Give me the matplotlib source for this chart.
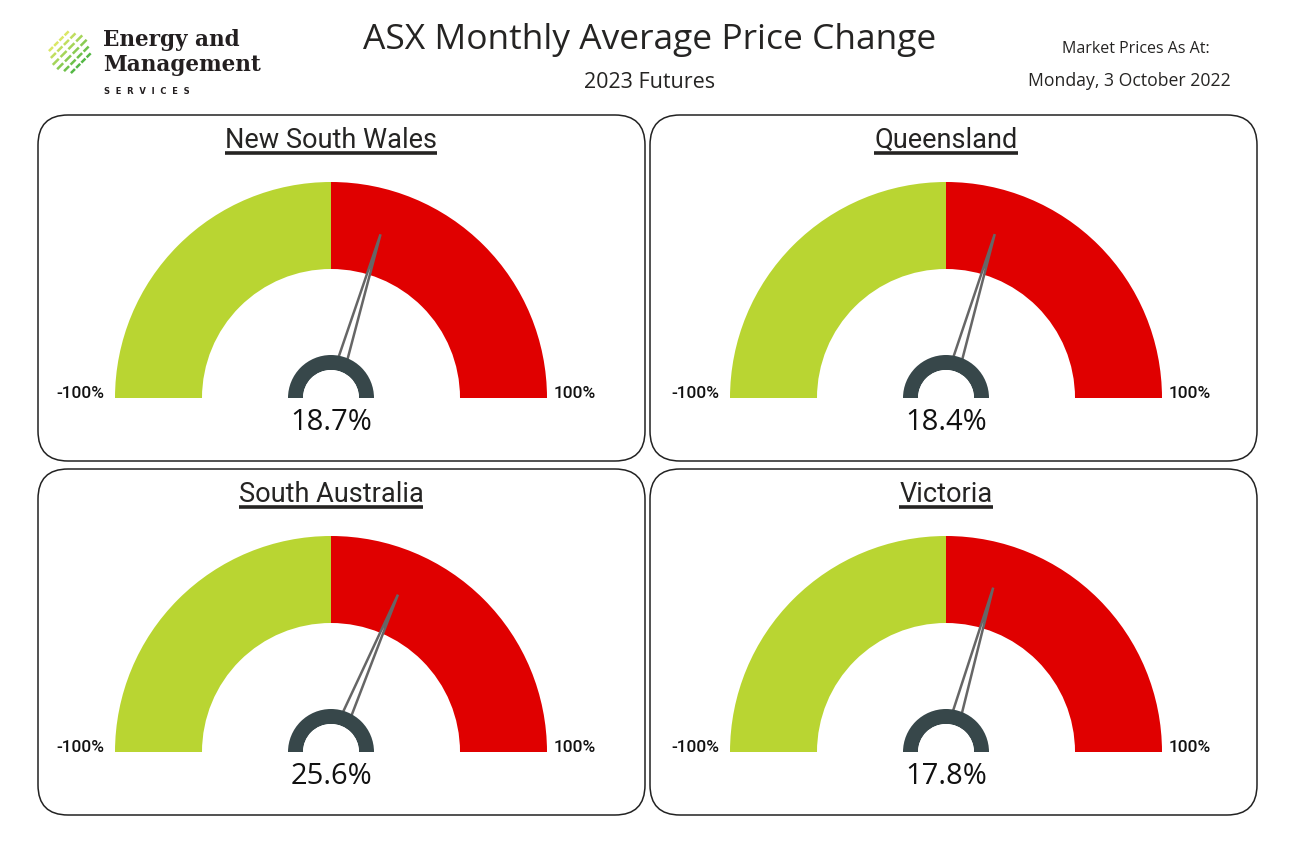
import matplotlib
matplotlib.use("Agg")
import matplotlib.pyplot as plt
from matplotlib.patches import Wedge, FancyBboxPatch, Polygon
import numpy as np

# data
regions = ["New South Wales", "Queensland", "South Australia", "Victoria"]
changes = [18.7, 18.4, 25.6, 17.8]   # percent
gauge_min, gauge_max = -100, 100

title = "ASX Monthly Average Price Change"
subtitle = "2023 Futures"
as_at_label = "Market Prices As At:"
as_at_date = "Monday, 3 October 2022"

GREEN = "#B9D532"
RED = "#E00000"
HUB = "#37474A"
NEEDLE = "#666666"
TEXT = "#252423"

W, H = 1302, 844
fig = plt.figure(figsize=(W / 100, H / 100), dpi=100)
ax = fig.add_axes([0, 0, 1, 1])
ax.set_xlim(0, W)
ax.set_ylim(0, H)
ax.set_aspect("equal")
ax.axis("off")


def Y(y):
    # pixel row (from top) to axes y
    return H - y


# header
ax.text(650, Y(40), title, ha="center", va="center", fontsize=25.5,
        family="Open Sans", color=TEXT)
ax.text(650, Y(83), subtitle, ha="center", va="center", fontsize=15.5,
        family="Open Sans", color=TEXT)
ax.text(1136, Y(49), as_at_label, ha="center", va="center", fontsize=11.5,
        family="Open Sans", color=TEXT)
ax.text(1129, Y(81), as_at_date, ha="center", va="center", fontsize=12.7,
        family="Open Sans", color=TEXT)

# logo
c_light = np.array([0.86, 0.91, 0.40])
c_dark = np.array([0.33, 0.72, 0.27])
for i in range(6):
    t = i / 5
    col = c_light * (1 - t) + c_dark * t
    L = 46 - abs(i - 2.5) * 7
    cx, cy = 70 + (i - 2.5) * 4.4, 52 + (i - 2.5) * 4.4
    for k in range(4):
        a = k * 0.26
        b = a + 0.2
        xs = cx + (np.array([a, b]) - 0.5) * L * 0.707
        ys = cy - (np.array([a, b]) - 0.5) * L * 0.707
        ax.plot(xs, [Y(v) for v in ys], color=col, lw=1.8, solid_capstyle="butt")
ax.text(103, Y(40), "Energy and", ha="left", va="center", fontsize=15.5,
        family="DejaVu Serif", weight="bold", color="#231F20")
ax.text(103, Y(65), "Management", ha="left", va="center", fontsize=15.5,
        family="DejaVu Serif", weight="bold", color="#231F20")
ax.text(104, Y(91), "S  E  R  V  I  C  E  S", ha="left", va="center", fontsize=6,
        family="DejaVu Sans", weight="bold", color="#231F20")

# panels: (left, top, gauge centre x)
panel_boxes = [(38, 115, 331), (650, 115, 946), (38, 469, 331), (650, 469, 946)]
pw, ph = 607, 346
R_OUT, R_IN = 216, 129
HUB_OUT, HUB_IN = 43, 28
NEEDLE_LEN = 171

fig.canvas.draw()
renderer = fig.canvas.get_renderer()

for name, val, (px, py, cx) in zip(regions, changes, panel_boxes):
    box = FancyBboxPatch((px, Y(py + ph)), pw, ph,
                         boxstyle="round,pad=0,rounding_size=30",
                         fc="white", ec="#222222", lw=1.1)
    ax.add_patch(box)
    cy = Y(py + 283)

    t = ax.text(cx, Y(py + 25), name, ha="center", va="center", fontsize=19.5,
                family="Roboto", color=TEXT)
    half = t.get_window_extent(renderer).width / 2
    ax.plot([cx - half, cx + half], [Y(py + 38)] * 2, color=TEXT, lw=2.6,
            solid_capstyle="butt")

    ax.add_patch(Wedge((cx, cy), R_OUT, 90, 180, width=R_OUT - R_IN, fc=GREEN, ec="none"))
    ax.add_patch(Wedge((cx, cy), R_OUT, 0, 90, width=R_OUT - R_IN, fc=RED, ec="none"))

    # needle
    ang = np.pi - (val - gauge_min) / (gauge_max - gauge_min) * np.pi
    d = np.array([np.cos(ang), np.sin(ang)])
    n = np.array([-d[1], d[0]])
    base = np.array([cx, cy]) + d * 30
    tip = np.array([cx, cy]) + d * NEEDLE_LEN
    pts = [base + n * 5, tip, base - n * 5]
    ax.add_patch(Polygon(pts, closed=True, fc="white", ec=NEEDLE, lw=1.8))

    ax.add_patch(Wedge((cx, cy), HUB_OUT, 0, 180, width=HUB_OUT - HUB_IN, fc=HUB, ec="none"))
    ax.add_patch(Wedge((cx, cy), HUB_IN, 0, 180, fc="white", ec="none"))

    ax.text(cx, Y(py + 307), f"{val:.1f}%", ha="center", va="center", fontsize=21,
            family="Open Sans", color="#111111")
    ax.text(cx - 251, Y(py + 279), f"{gauge_min}%", ha="center", va="center",
            fontsize=12.5, family="Roboto", weight="medium", color="#111111")
    ax.text(cx + 244, Y(py + 279), f"{gauge_max}%", ha="center", va="center",
            fontsize=12.5, family="Roboto", weight="medium", color="#111111")

fig.savefig("out.png", dpi=100)
